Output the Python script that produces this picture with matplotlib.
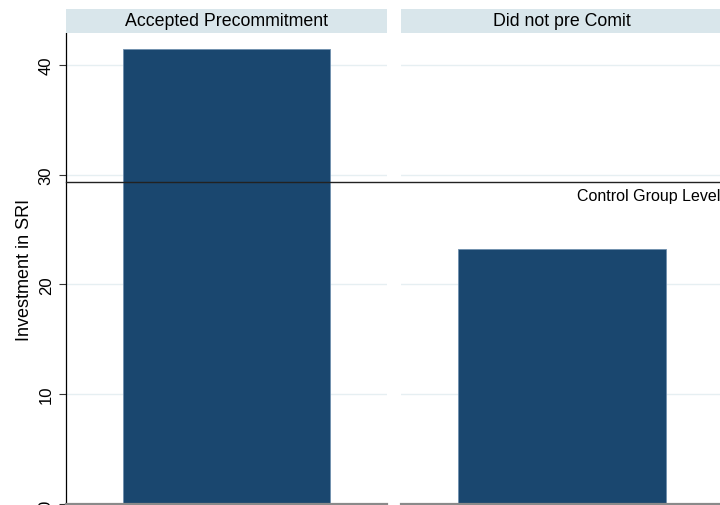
import matplotlib
matplotlib.use('Agg')
import matplotlib.pyplot as plt

# --- Data ---
panels = ['Accepted Precommitment', 'Did not pre Comit']
investment = [41.4, 23.2]
control_level = 29.3
control_label = 'Control Group Level'
yticks = [0, 10, 20, 30, 40]
ylabel = 'Investment in SRI'

# --- Style ---
BAR_COLOR = '#1a476f'
STRIP_COLOR = '#d9e6eb'
GRID_COLOR = '#e6eff2'
W, H = 720, 506

plt.rcParams['font.family'] = ['Liberation Sans', 'DejaVu Sans']
fig = plt.figure(figsize=(W / 100, H / 100), dpi=100)
fig.patch.set_facecolor('white')

# panel positions in pixels (left, right); vertical positions measured from the top
panel_x = [(65.5, 387), (401, 723)]
ax_top = 34      # top of plot region
ax_zero = 505    # pixel row of y = 0
strip_top = 10

axes = []
for i, (name, val) in enumerate(zip(panels, investment)):
    x0, x1 = panel_x[i]
    ax = fig.add_axes([x0 / W, (H - ax_zero) / H, (x1 - x0) / W, (ax_zero - ax_top) / H])
    ax.set_facecolor('none')
    ax.set_xlim(0, 1)
    ax.set_ylim(0, 42.9)
    for t in yticks[1:]:
        ax.axhline(t, color=GRID_COLOR, lw=1.0, zorder=0)
    ax.bar([0.5], [val], width=0.645, color=BAR_COLOR, edgecolor='#6f8fae', lw=0.6, zorder=2)
    ax.set_xticks([])
    ax.set_yticks(yticks)
    for s in ['top', 'right']:
        ax.spines[s].set_visible(False)
    ax.spines['bottom'].set_color('#8a8a8a')
    ax.spines['bottom'].set_linewidth(1.6)
    if i == 0:
        ax.spines['left'].set_color('black')
        ax.spines['left'].set_linewidth(0.9)
        ax.tick_params(axis='y', length=5, width=0.8, color='#333333', pad=3.5,
                       labelsize=12, labelrotation=90)
        for lbl in ax.get_yticklabels():
            lbl.set_va('center')
        ax.set_ylabel(ylabel, fontsize=13, labelpad=4)
    else:
        ax.spines['left'].set_visible(False)
        ax.tick_params(axis='y', left=False, labelleft=False)

    # header strip
    sx = fig.add_axes([x0 / W, (H - ax_top) / H, (x1 - x0) / W, (ax_top - strip_top) / H])
    sx.set_facecolor(STRIP_COLOR)
    sx.set_xticks([])
    sx.set_yticks([])
    for s in sx.spines.values():
        s.set_visible(False)
    sx.text(0.5, 0.5, name, ha='center', va='center', fontsize=12.8, transform=sx.transAxes)
    axes.append(ax)

# control line across both panels (one line from the left axis to the figure edge)
x0, x1 = panel_x[0]
axes[0].axhline(control_level, xmin=0, xmax=(W + 5 - x0) / (x1 - x0),
                color='#222222', lw=1.0, clip_on=False, zorder=5)
axes[1].annotate(control_label, xy=((W - panel_x[1][0]) / (panel_x[1][1] - panel_x[1][0]), control_level),
                 xycoords=('axes fraction', 'data'), xytext=(0, -4), textcoords='offset points',
                 ha='right', va='top', fontsize=11.5)

fig.savefig('out.png', dpi=100, facecolor='white')
